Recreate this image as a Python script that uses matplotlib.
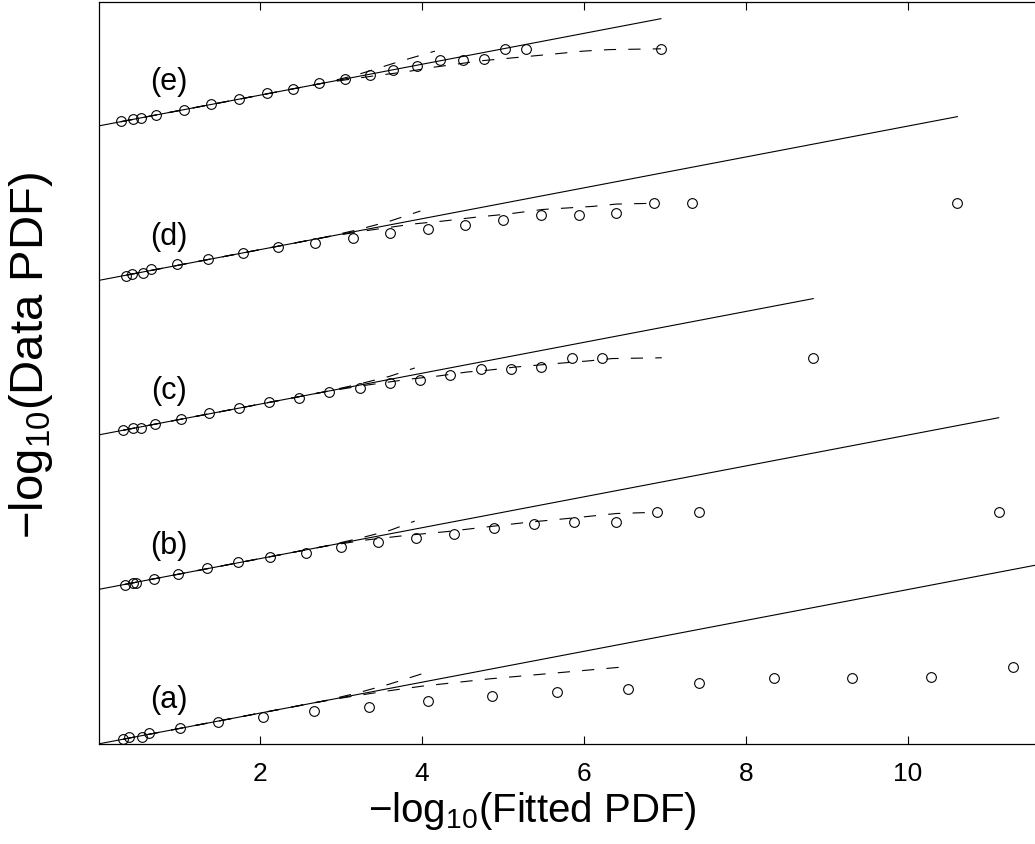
import matplotlib
matplotlib.use('Agg')
import matplotlib.pyplot as plt
import numpy as np

plt.rcParams['font.family'] = ['Liberation Sans', 'DejaVu Sans']
plt.rcParams['mathtext.fontset'] = 'custom'
plt.rcParams['mathtext.rm'] = 'Liberation Sans'
plt.rcParams['mathtext.default'] = 'regular'

# -log10(fitted pdf) vs -log10(data pdf), five cases stacked with offsets
labels = ['(a)', '(b)', '(c)', '(d)', '(e)']
offsets = [0, 10, 20, 30, 40]

x_a = [0.31, 0.38, 0.54, 0.63, 1.01, 1.48, 2.04, 2.67, 3.35, 4.07, 4.86, 5.67, 6.54, 7.42, 8.35, 9.31, 10.28, 11.30]
y_a = [0.32, 0.45, 0.45, 0.71, 1.04, 1.42, 1.75, 2.14, 2.39, 2.78, 3.11, 3.37, 3.56, 3.95, 4.27, 4.27, 4.34, 5.00]

x_b = [0.33, 0.43, 0.47, 0.69, 0.99, 1.35, 1.73, 2.12, 2.57, 3.00, 3.46, 3.93, 4.40, 4.89, 5.38, 5.88, 6.40, 6.90, 7.42, 11.12]
y_b = [0.29, 0.42, 0.42, 0.68, 1.00, 1.39, 1.78, 2.10, 2.36, 2.75, 3.07, 3.33, 3.59, 3.98, 4.27, 4.34, 4.37, 5.00, 5.00, 5.00]

x_c = [0.31, 0.43, 0.53, 0.70, 1.03, 1.37, 1.74, 2.11, 2.48, 2.85, 3.24, 3.61, 3.98, 4.35, 4.73, 5.10, 5.47, 5.85, 6.22, 8.83]
y_c = [0.32, 0.45, 0.45, 0.71, 1.04, 1.42, 1.75, 2.14, 2.39, 2.78, 3.04, 3.37, 3.56, 3.88, 4.27, 4.27, 4.40, 5.00, 5.00, 5.00]

x_d = [0.35, 0.42, 0.56, 0.65, 0.98, 1.36, 1.79, 2.22, 2.68, 3.15, 3.61, 4.07, 4.53, 5.00, 5.47, 5.94, 6.40, 6.86, 7.33, 10.61]
y_d = [0.29, 0.42, 0.49, 0.74, 1.07, 1.39, 1.78, 2.17, 2.43, 2.75, 3.07, 3.33, 3.59, 3.92, 4.24, 4.24, 4.37, 5.00, 5.00, 5.00]

x_e = [0.28, 0.43, 0.53, 0.72, 1.06, 1.40, 1.74, 2.09, 2.41, 2.73, 3.05, 3.36, 3.64, 3.94, 4.22, 4.51, 4.77, 5.03, 5.28, 6.95]
y_e = [0.32, 0.45, 0.52, 0.71, 1.04, 1.42, 1.75, 2.14, 2.39, 2.78, 3.04, 3.30, 3.62, 3.88, 4.27, 4.27, 4.34, 5.00, 5.00, 5.00]

# end of the y=x reference line
fit_end = [11.8, 11.12, 8.83, 10.61, 6.95]

# upper dashed bound
up_x_a = [0.31, 2.8, 3.2, 3.6, 4.07]
up_y_a = [0.31, 2.8, 3.30, 3.88, 4.66]
up_x_b = [0.33, 2.8, 3.2, 3.6, 3.91]
up_y_b = [0.33, 2.8, 3.28, 3.82, 4.43]
up_x_c = [0.31, 2.8, 3.2, 3.6, 3.91]
up_y_c = [0.31, 2.8, 3.27, 3.80, 4.34]
up_x_d = [0.35, 2.8, 3.2, 3.6, 3.98]
up_y_d = [0.35, 2.8, 3.28, 3.84, 4.50]
up_x_e = [0.28, 2.8, 3.2, 3.74, 4.16]
up_y_e = [0.28, 2.8, 3.32, 4.21, 4.85]

# lower dashed bound
lo_x_a = [0.31, 2.6, 3.0, 3.5, 4.01, 4.84, 5.27, 6.47]
lo_y_a = [0.31, 2.6, 2.97, 3.38, 3.75, 4.22, 4.42, 4.98]
lo_x_b = [0.33, 2.8, 3.3, 3.8, 4.31, 4.68, 5.05, 5.27, 5.9, 6.4, 6.9]
lo_y_b = [0.33, 2.8, 3.2, 3.5, 3.75, 3.98, 4.20, 4.33, 4.65, 4.92, 5.0]
lo_x_c = [0.31, 2.8, 3.3, 3.85, 4.2, 4.56, 4.84, 5.15, 5.73, 6.04, 6.35, 6.96]
lo_y_c = [0.31, 2.8, 3.22, 3.62, 3.82, 4.08, 4.21, 4.40, 4.66, 4.79, 4.95, 5.0]
lo_x_d = [0.35, 2.8, 3.3, 3.89, 4.26, 4.68, 5.05, 5.49, 6.11, 6.4, 6.86]
lo_y_d = [0.35, 2.8, 3.22, 3.66, 3.85, 4.11, 4.30, 4.60, 4.80, 4.95, 5.0]
lo_x_e = [0.28, 2.8, 3.48, 3.79, 4.16, 4.43, 4.72, 5.05, 5.62, 5.99, 6.32, 6.95]
lo_y_e = [0.28, 2.8, 3.30, 3.50, 3.82, 4.01, 4.22, 4.38, 4.66, 4.85, 4.95, 5.0]

pts = [(x_a, y_a), (x_b, y_b), (x_c, y_c), (x_d, y_d), (x_e, y_e)]
ups = [(up_x_a, up_y_a), (up_x_b, up_y_b), (up_x_c, up_y_c), (up_x_d, up_y_d), (up_x_e, up_y_e)]
los = [(lo_x_a, lo_y_a), (lo_x_b, lo_y_b), (lo_x_c, lo_y_c), (lo_x_d, lo_y_d), (lo_x_e, lo_y_e)]

fig = plt.figure(figsize=(10.35, 8.45), dpi=100)
ax = fig.add_axes([99/1035, 100/845, 941/1035, 742/845])

for i in range(5):
    off = offsets[i]
    px, py = pts[i]
    ux, uy = ups[i]
    lx, ly = los[i]
    ax.plot([0, fit_end[i]], [off, fit_end[i] + off], color='black', lw=0.8)
    ax.plot(ux, np.array(uy) + off, color='black', lw=0.8, dashes=(11, 11))
    ax.plot(lx, np.array(ly) + off, color='black', lw=0.8, dashes=(11, 11))
    ax.plot(px, np.array(py) + off, 'o', color='black', mfc='none', ms=7, mew=0.8)
    ax.text(0.88, off + 2.9, labels[i], fontsize=22, ha='center', va='center')

ax.set_xlim(0.012, 11.63)
ax.set_ylim(0, 48.03)
ax.set_xticks([2, 4, 6, 8, 10])
ax.set_yticks([])
ax.tick_params(axis='x', direction='in', length=6, width=0.8, top=True, labelsize=19, pad=12)
ax.spines['right'].set_visible(False)
for s in ['left', 'top', 'bottom']:
    ax.spines[s].set_linewidth(0.9)

ax.set_xlabel('\u2212log$_{10}$(Fitted PDF)', fontsize=29)
ax.set_ylabel('\u2212log$_{10}$(Data PDF)', fontsize=34)
ax.xaxis.set_label_coords(0.46, -0.061)
ax.yaxis.set_label_coords(-0.047, 0.525)

fig.savefig('out.png', dpi=100)
